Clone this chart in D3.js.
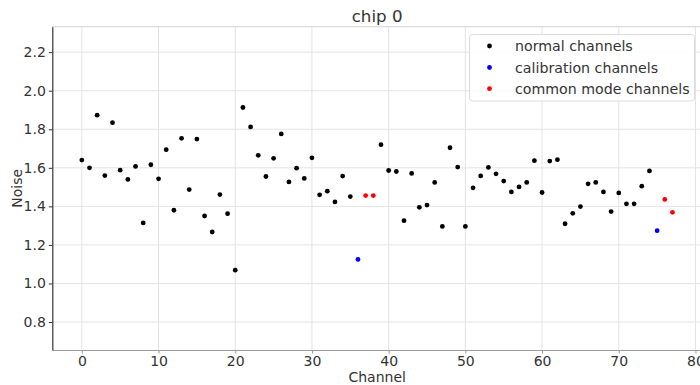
<!DOCTYPE html>
<html>
<head>
<meta charset="utf-8">
<script src="https://cdn.jsdelivr.net/npm/d3@7"></script>
<style>
html,body{margin:0;padding:0;background:#fff;overflow:hidden;}
svg{display:block;font-family:"DejaVu Sans",sans-serif;}
</style>
</head>
<body>
<svg id="chart" width="700" height="385"></svg>
<script>
// ---- data ----
const channels = d3.range(0, 78);
const noise = [
  1.640, 1.600, 1.873, 1.560, 1.834, 1.588, 1.540, 1.607, 1.314, 1.616,
  1.543, 1.694, 1.380, 1.753, 1.487, 1.749, 1.350, 1.267, 1.461, 1.362,
  1.069, 1.913, 1.812, 1.665, 1.555, 1.649, 1.776, 1.527, 1.598, 1.545,
  1.652, 1.460, 1.479, 1.423, 1.557, 1.451, 1.125, 1.456, 1.456, 1.720,
  1.586, 1.581, 1.326, 1.571, 1.395, 1.407, 1.524, 1.296, 1.704, 1.604,
  1.296, 1.496, 1.558, 1.602, 1.569, 1.531, 1.475, 1.501, 1.524, 1.637,
  1.472, 1.635, 1.642, 1.310, 1.364, 1.399, 1.517, 1.524, 1.475, 1.373,
  1.470, 1.413, 1.413, 1.505, 1.584, 1.274, 1.436, 1.369
];
const calibrationChannels = [36, 75];
const commonModeChannels = [37, 38, 76, 77];
const seriesNames = ["normal channels", "calibration channels", "common mode channels"];
const seriesColors = ["#000000", "#0000ff", "#ff0000"];
const xTicks = [0, 10, 20, 30, 40, 50, 60, 70, 80];
const yTicks = [0.8, 1.0, 1.2, 1.4, 1.6, 1.8, 2.0, 2.2];
const titleText = "chip 0";
const xLabel = "Channel";
const yLabel = "Noise";

// ---- layout ----
const svg = d3.select("#chart");
const L = 52.3, R = 702, T = 26.7, B = 350;
const x = d3.scaleLinear().domain([-3.85, 80.85]).range([L, R]);
const y = d3.scaleLinear().domain([0.655, 2.332]).range([B, T]);

function kindOf(ch) {
  if (calibrationChannels.includes(ch)) return 1;
  if (commonModeChannels.includes(ch)) return 2;
  return 0;
}
const points = channels.map((c, i) => ({ch: c, v: noise[i], k: kindOf(c)}));

// grid
const g = svg.append("g");
g.selectAll(".gx").data(xTicks).join("line")
  .attr("x1", d => x(d)).attr("x2", d => x(d))
  .attr("y1", T).attr("y2", B)
  .attr("stroke", "#e3e3e3").attr("stroke-width", 1);
g.selectAll(".gy").data(yTicks).join("line")
  .attr("x1", L).attr("x2", R)
  .attr("y1", d => y(d)).attr("y2", d => y(d))
  .attr("stroke", "#e3e3e3").attr("stroke-width", 1);

// top spine (light)
svg.append("line").attr("x1", L).attr("x2", R).attr("y1", T).attr("y2", T)
  .attr("stroke", "#dcdcdc").attr("stroke-width", 1.2);

// axes
const xAxis = svg.append("g").attr("transform", `translate(0,${B})`)
  .call(d3.axisBottom(x).tickValues(xTicks).tickFormat(d3.format("d"))
    .tickSizeInner(3.5).tickSizeOuter(0).tickPadding(3));
xAxis.select(".domain").attr("stroke", "#9a9a9a").attr("stroke-width", 1.2);
xAxis.selectAll(".tick line").attr("stroke", "#9a9a9a");
xAxis.selectAll(".tick text").attr("font-size", 14).attr("fill", "#333")
  .attr("font-family", "DejaVu Sans");

const yAxis = svg.append("g").attr("transform", `translate(${L},0)`)
  .call(d3.axisLeft(y).tickValues(yTicks).tickFormat(d3.format(".1f"))
    .tickSizeInner(3.5).tickSizeOuter(0).tickPadding(3));
yAxis.select(".domain").attr("stroke", "#333").attr("stroke-width", 1.2);
yAxis.selectAll(".tick line").attr("stroke", "#333");
yAxis.selectAll(".tick text").attr("font-size", 14).attr("fill", "#333")
  .attr("font-family", "DejaVu Sans");

// points
svg.append("g").selectAll("circle").data(points).join("circle")
  .attr("cx", d => x(d.ch)).attr("cy", d => y(d.v)).attr("r", 2.4)
  .attr("fill", d => seriesColors[d.k]);

// title + labels
svg.append("text").attr("x", (L + R) / 2).attr("y", 22).attr("text-anchor", "middle")
  .attr("font-size", 16.7).attr("fill", "#333").text(titleText);
svg.append("text").attr("x", (L + R) / 2).attr("y", 382).attr("text-anchor", "middle")
  .attr("font-size", 14).attr("fill", "#333").text(xLabel);
svg.append("text").attr("transform", `translate(21.5,${(T + B) / 2}) rotate(-90)`)
  .attr("text-anchor", "middle").attr("font-size", 14).attr("fill", "#333").text(yLabel);

// legend
const lg = svg.append("g");
lg.append("rect").attr("x", 469.5).attr("y", 34.5).attr("width", 225).attr("height", 66.5)
  .attr("rx", 3).attr("fill", "#fff").attr("fill-opacity", 0.85)
  .attr("stroke", "#dcdcdc").attr("stroke-width", 1);
const rowsY = [46, 67.5, 88.7];
seriesNames.forEach((name, i) => {
  lg.append("circle").attr("cx", 489.5).attr("cy", rowsY[i]).attr("r", 2.4).attr("fill", seriesColors[i]);
  lg.append("text").attr("x", 515).attr("y", rowsY[i] + 5).attr("font-size", 14.2)
    .attr("fill", "#333").text(name);
});
</script>
</body>
</html>
